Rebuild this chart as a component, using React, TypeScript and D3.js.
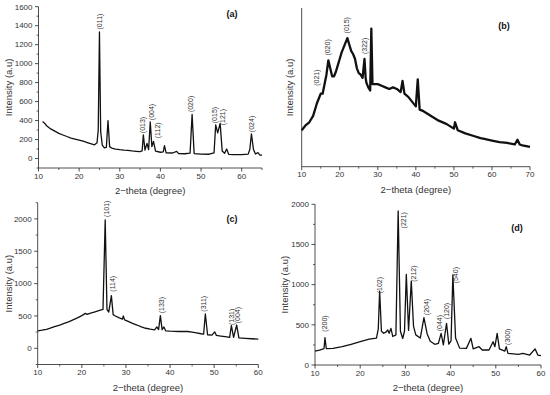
import React from 'react';
import * as d3 from 'd3';

// ---- panel (a) ----
const aTheta = [11, 11.5, 12, 13, 14, 15, 16, 17, 18, 19, 20, 21, 22, 23, 23.8, 24.4, 24.7, 25.0, 25.3, 25.7,
  26.2, 26.7, 27.1, 27.5, 28, 29, 30, 31, 32, 33, 34, 35, 35.5, 35.8, 36.2, 36.7, 37.1, 37.5, 37.9, 38.3,
  38.8, 40, 40.7, 41, 41.4, 43, 44, 44.5, 46, 47.3, 47.8, 48.3, 50, 52, 53.2, 53.6, 54.1, 54.7, 55.2, 55.8,
  56.3, 56.8, 58, 60, 61.6, 62.0, 62.4, 62.9, 63.4, 64, 64.5, 65];
const aIntensity = [390, 372, 345, 312, 288, 265, 248, 232, 215, 205, 195, 182, 168, 155, 145, 165, 300, 1335, 280, 140,
  112, 118, 400, 125, 110, 100, 93, 88, 85, 80, 76, 72, 80, 250, 88, 160, 95, 385, 125, 180,
  78, 66, 70, 135, 60, 58, 75, 52, 50, 56, 465, 52, 46, 45, 60, 355, 270, 370, 80, 55,
  100, 44, 40, 40, 46, 95, 260, 95, 48, 62, 36, 36];
const aPeaks = ['(011)', '(013)', '(004)', '(112)', '(020)', '(015)', '(121)', '(024)'];
const aPeakTheta = [25.1, 35.7, 37.7, 39.2, 47.5, 53.4, 55.2, 62.5];
const aPeakAt = [1360, 267, 404, 214, 489, 372, 350, 278];
const aXTicks = [10, 20, 30, 40, 50, 60];
const aYTicks = [0, 200, 400, 600, 800, 1000, 1200, 1400, 1600];

// ---- panel (b) ----
const bTheta = [10, 11, 12, 13, 13.5, 14, 14.5, 15, 15.5, 16, 16.5, 17, 17.5, 18, 18.5, 19, 19.5, 20, 20.5, 21,
  21.5, 22, 22.5, 23, 23.5, 24, 24.5, 25, 25.5, 26, 26.5, 26.8, 27, 27.5, 28, 28.3, 28.6, 29, 30, 31,
  32, 33, 34, 35, 36, 36.5, 37, 38, 39, 40, 40.5, 41, 42, 44, 46, 48, 50, 50.3, 51, 53,
  55, 57, 58, 60, 62, 64, 66, 66.7, 67.3, 68, 70];
const bIntensity = [23, 26, 28, 32, 36, 40, 43, 46, 46, 52, 58, 67, 62, 57, 57, 60, 64, 68, 72, 75,
  78, 81, 77, 73, 71, 68, 62, 59, 58, 56, 68, 56, 53, 50, 48, 87, 52, 52, 52, 51,
  50, 49, 50, 49, 47, 54, 46, 44, 41, 38, 55, 36, 35, 32, 29, 27, 24, 28, 23, 21,
  19.5, 18, 17.5, 16.5, 15.5, 15, 14, 17, 14, 13.5, 12.5];
const bPeaks = ['(021)', '(020)', '(015)', '(322)'];
const bPeakTheta = [13.9, 16.8, 21.8, 26.6];
const bPeakAt = [51, 70, 84, 71];
const bXTicks = [10, 20, 30, 40, 50, 60, 70];

// ---- panel (c) ----
const cTheta = [10, 11, 12, 13, 14, 15, 16, 17, 18, 19, 20, 20.8, 21.2, 22, 23, 24, 24.8, 25.3, 25.7, 26.1,
  26.7, 27.1, 27.6, 28.5, 29.2, 29.4, 29.7, 30.5, 31.5, 32.5, 33.5, 34.5, 35.5, 36.5, 37, 37.4, 37.8, 38.2, 38.6, 39,
  40, 41, 42, 43, 44, 45, 46, 47, 47.6, 48, 48.5, 49.5, 50.1, 50.5, 51.5, 52.5, 53.5, 53.9, 54.4, 55.1,
  55.6, 57, 58.5, 60];
const cIntensity = [268, 280, 294, 315, 338, 360, 385, 410, 440, 470, 505, 540, 525, 545, 565, 585, 600, 1985, 600, 560,
  815, 520, 500, 470, 450, 500, 440, 415, 385, 360, 330, 310, 295, 285, 330, 290, 505, 290, 330, 270,
  265, 262, 260, 262, 260, 250, 240, 225, 218, 530, 210, 205, 255, 200, 190, 180, 170, 350, 168, 360,
  160, 155, 148, 142];
const cPeaks = ['(101)', '(114)', '(133)', '(311)', '(131)', '(004)'];
const cPeakTheta = [25.5, 26.9, 38.0, 47.7, 53.9, 55.4];
const cPeakAt = [2030, 875, 541, 566, 360, 386];
const cXTicks = [10, 20, 30, 40, 50, 60];
const cYTicks = [0, 500, 1000, 1500, 2000];

// ---- panel (d) ----
const dTheta = [10, 11, 12, 12.2, 12.5, 14, 16, 18, 20, 22, 23.6, 24.0, 24.3, 24.7, 25.2, 25.7, 26.1, 26.4, 26.8, 27.2,
  27.9, 28.4, 28.9, 29.4, 29.8, 30.2, 30.7, 31.3, 31.8, 32.3, 33.3, 34.1, 34.8, 35.5, 36.5, 37.3, 37.9, 38.4, 39.1, 39.6,
  40.1, 40.5, 41.1, 42, 43.5, 44.5, 45, 46.3, 47, 48.5, 49.4, 49.8, 50.3, 50.8, 52, 52.3, 52.7, 55, 56, 57.5,
  58.7, 59.3, 60];
const dIntensity = [174, 186, 205, 340, 205, 208, 228, 258, 290, 322, 335, 450, 920, 420, 395, 410, 435, 395, 455, 355,
  375, 1917, 420, 330, 420, 1128, 430, 1045, 480, 375, 335, 590, 390, 295, 258, 270, 394, 250, 519, 260,
  300, 1120, 335, 210, 207, 332, 200, 228, 187, 187, 290, 228, 394, 200, 174, 228, 145, 133, 145, 124,
  200, 124, 116];
const dPeaks = ['(200)', '(102)', '(221)', '(212)', '(204)', '(044)', '(120)', '(540)', '(300)'];
const dPeakTheta = [12.2, 24.2, 29.5, 31.9, 34.7, 37.6, 39.1, 41.0, 52.5];
const dPeakAt = [415, 892, 1700, 1036, 620, 420, 570, 1016, 250];
const dXTicks = [10, 20, 30, 40, 50, 60];
const dYTicks = [0, 500, 1000, 1500, 2000];

const FONT = '"Liberation Sans", Arial, sans-serif';
const INK = '#222';

interface PanelProps {
  theta: number[];
  counts: number[];
  peaks: string[];
  peakTheta: number[];
  peakAt: number[];
  xDomain: [number, number];
  yDomain: [number, number];
  left: number; right: number; top: number; bottom: number;
  xTicks: number[];
  yTicks?: number[];
  tag: string;
  tagX: number; tagY: number;
  yLabelX: number;
  strokeWidth?: number;
}

const Panel: React.FC<PanelProps> = (p) => {
  const x = d3.scaleLinear().domain(p.xDomain).range([p.left, p.right]);
  const y = d3.scaleLinear().domain(p.yDomain).range([p.bottom, p.top]);
  const line = d3.line<number>().x((_, i) => x(p.theta[i])).y((d) => y(d));

  // minor ticks halfway between majors
  const xMinor: number[] = [];
  const xStep = p.xTicks[1] - p.xTicks[0];
  for (let i = 0; i < p.xTicks.length; i++) {
    const m = p.xTicks[i] + xStep / 2;
    if (m <= p.xDomain[1]) xMinor.push(m);
  }
  const yMinor: number[] = [];
  if (p.yTicks) {
    const step = p.yTicks[1] - p.yTicks[0];
    for (let v = p.yTicks[0] - step / 2; v <= p.yDomain[1]; v += step) {
      if (v >= p.yDomain[0]) yMinor.push(v);
    }
  }

  return (
    <g fontFamily={FONT}>
      <path d={line(p.counts) || ''} fill="none" stroke="#111" strokeWidth={p.strokeWidth || 1.3} strokeLinejoin="round" />

      <line x1={p.left} x2={p.right} y1={p.bottom} y2={p.bottom} stroke={INK} strokeWidth={0.8} />
      <line x1={p.left} x2={p.left} y1={p.top} y2={p.bottom} stroke={INK} strokeWidth={0.8} />

      {p.xTicks.map((t) => (
        <g key={'xt' + t}>
          <line x1={x(t)} x2={x(t)} y1={p.bottom} y2={p.bottom + 3.5} stroke={INK} strokeWidth={0.8} />
          <text x={x(t)} y={p.bottom + 10.5} fontSize={8} textAnchor="middle" fill="#333">{t}</text>
        </g>
      ))}
      {xMinor.map((t) => (
        <line key={'xm' + t} x1={x(t)} x2={x(t)} y1={p.bottom} y2={p.bottom + 2} stroke={INK} strokeWidth={0.7} />
      ))}

      {p.yTicks && p.yTicks.map((t) => (
        <g key={'yt' + t}>
          <line x1={p.left - 3.5} x2={p.left} y1={y(t)} y2={y(t)} stroke={INK} strokeWidth={0.8} />
          <text x={p.left - 6} y={y(t)} dy="0.35em" fontSize={8} textAnchor="end" fill="#333">{t}</text>
        </g>
      ))}
      {yMinor.map((t) => (
        <line key={'ym' + t} x1={p.left - 2} x2={p.left} y1={y(t)} y2={y(t)} stroke={INK} strokeWidth={0.7} />
      ))}

      <text x={(p.left + p.right) / 2} y={p.bottom + 26} fontSize={9.5} textAnchor="middle" fill="#333">
        2−theta (degree)
      </text>
      <text
        transform={`translate(${p.yLabelX},${(p.top + p.bottom) / 2}) rotate(-90)`}
        dy="0.35em" fontSize={9.5} textAnchor="middle" fill="#333"
      >
        Intensity (a.u)
      </text>

      {p.peaks.map((name, i) => (
        <text
          key={name + i}
          transform={`translate(${x(p.peakTheta[i])},${y(p.peakAt[i])}) rotate(-90)`}
          dy="0.35em" fontSize={7} textAnchor="start" fill="#333"
        >
          {name}
        </text>
      ))}

      <text x={p.tagX} y={p.tagY} fontSize={9} fontWeight="bold" textAnchor="middle" fill="#111">{p.tag}</text>
    </g>
  );
};

export default function App() {
  return (
    <svg width={550} height={395} style={{ position: 'absolute', left: 0, top: 0, background: '#fff' }}>
      <Panel
        theta={aTheta} counts={aIntensity} peaks={aPeaks} peakTheta={aPeakTheta} peakAt={aPeakAt}
        xDomain={[10, 65]} yDomain={[-100, 1600]}
        left={38.5} right={262} top={6.7} bottom={168}
        xTicks={aXTicks} yTicks={aYTicks}
        tag="(a)" tagX={232} tagY={17} yLabelX={8.5}
      />
      <Panel
        theta={bTheta} counts={bIntensity} peaks={bPeaks} peakTheta={bPeakTheta} peakAt={bPeakAt}
        xDomain={[10, 70]} yDomain={[0, 100]}
        left={301.7} right={530} top={8} bottom={166.7}
        xTicks={bXTicks}
        tag="(b)" tagX={504} tagY={29} yLabelX={290} strokeWidth={2.3}
      />
      <Panel
        theta={cTheta} counts={cIntensity} peaks={cPeaks} peakTheta={cPeakTheta} peakAt={cPeakAt}
        xDomain={[10, 60]} yDomain={[-250, 2250]}
        left={37.7} right={258.3} top={202.7} bottom={364.5}
        xTicks={cXTicks} yTicks={cYTicks}
        tag="(c)" tagX={232} tagY={222} yLabelX={8.5}
      />
      <Panel
        theta={dTheta} counts={dIntensity} peaks={dPeaks} peakTheta={dPeakTheta} peakAt={dPeakAt}
        xDomain={[10, 60]} yDomain={[0, 2000]}
        left={315} right={541} top={204.3} bottom={365}
        xTicks={dXTicks} yTicks={dYTicks}
        tag="(d)" tagX={517} tagY={231} yLabelX={285}
      />
    </svg>
  );
}
